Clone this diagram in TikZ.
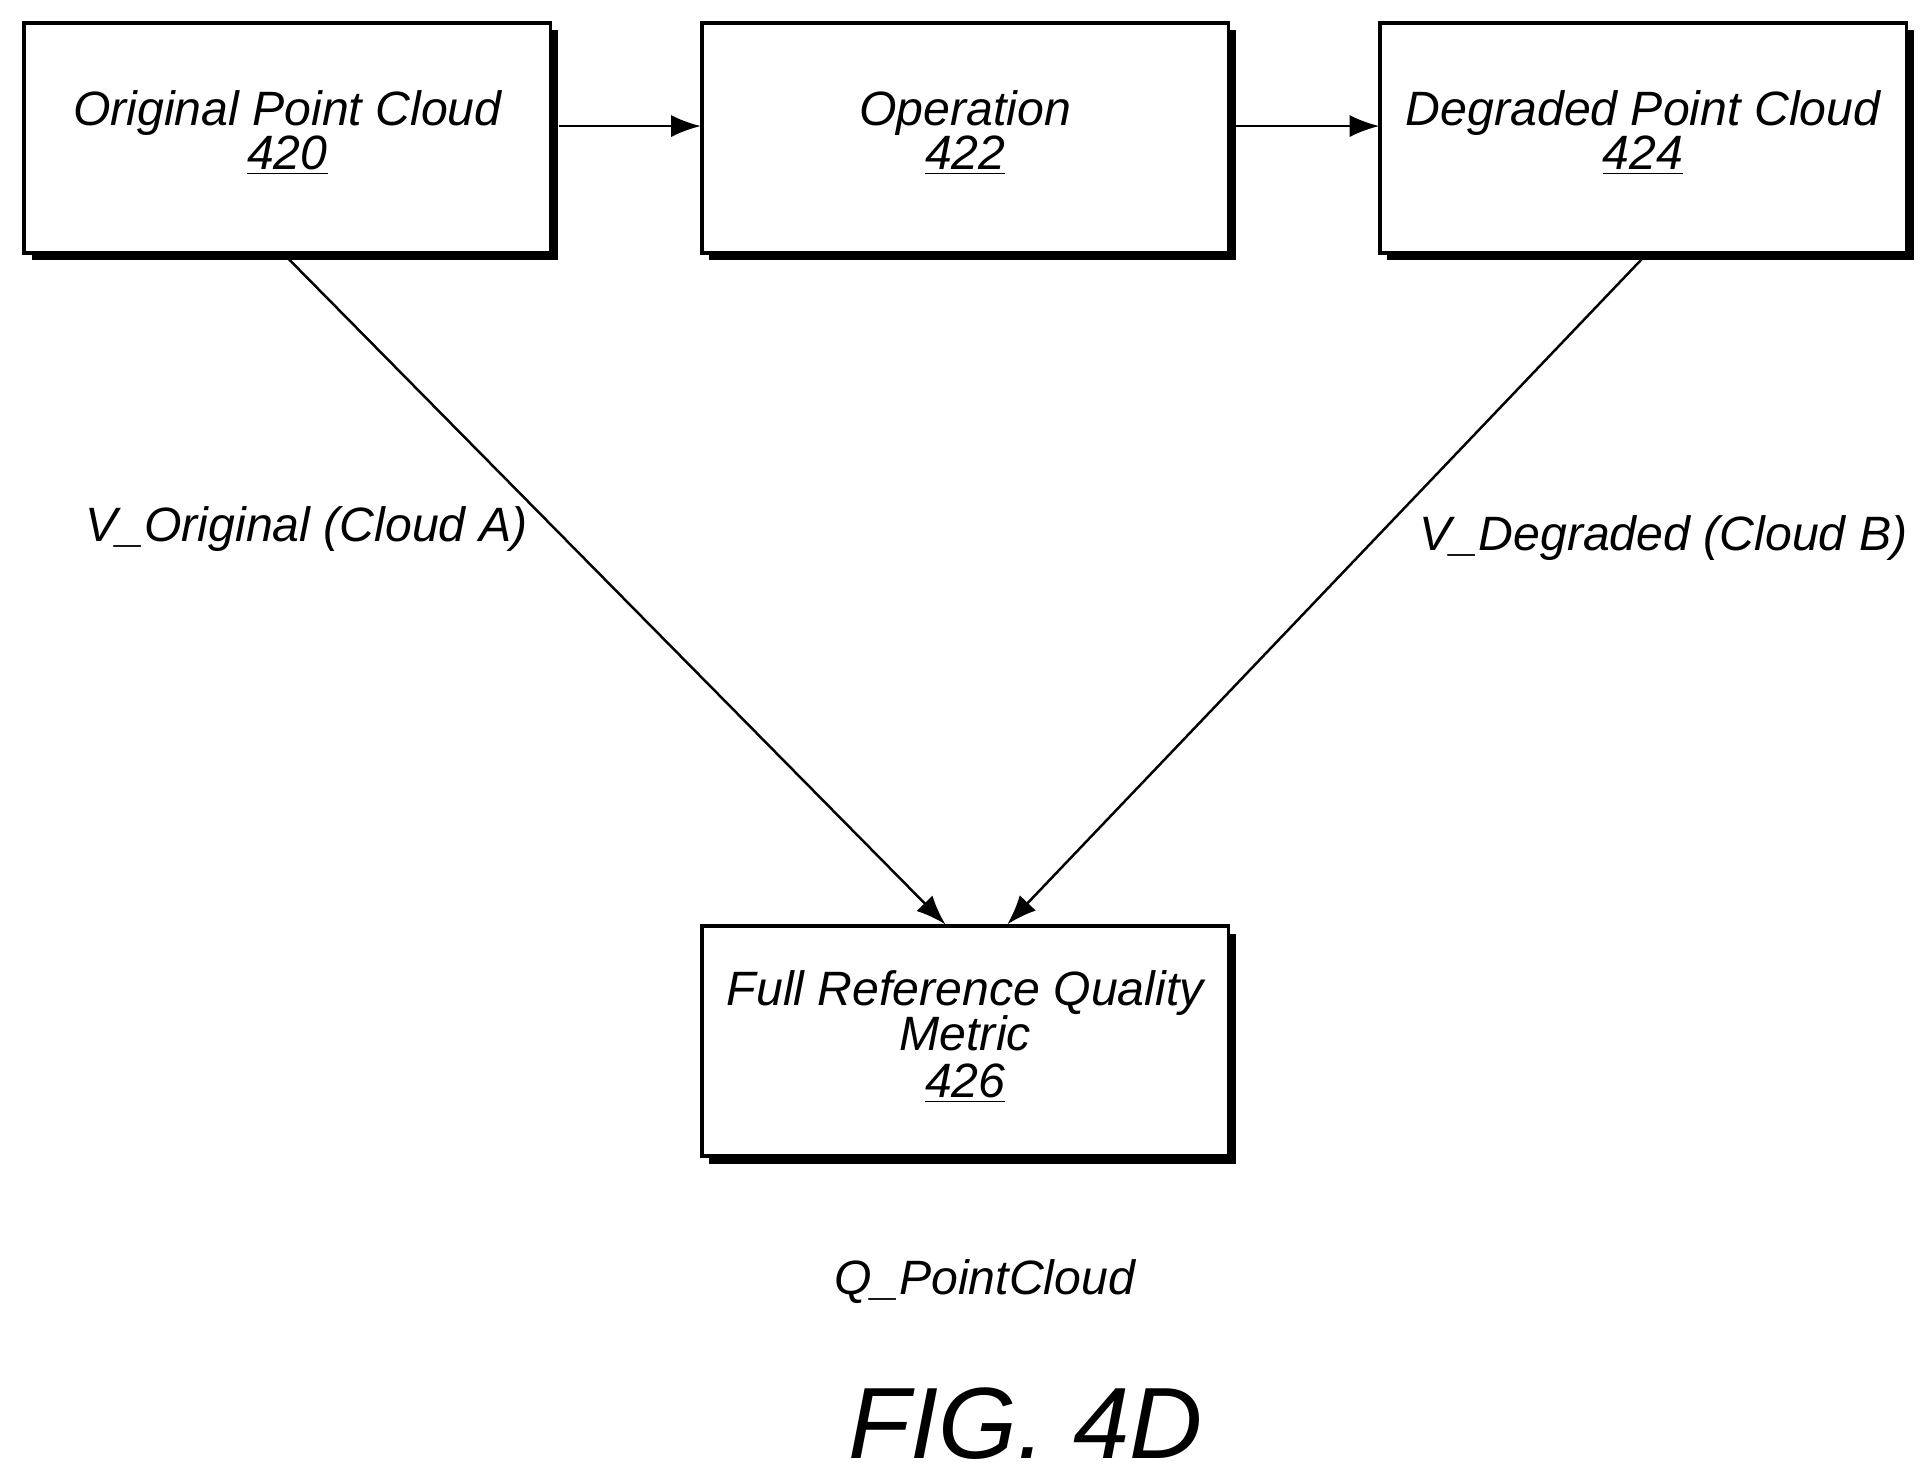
\documentclass[tikz,border=0pt]{standalone}
\usepackage{fontspec}
\setmainfont{Liberation Sans}
\usetikzlibrary{arrows.meta}
\begin{document}
\begin{tikzpicture}[x=0.5pt,y=-0.5pt,
  box/.style={draw,line width=1.5pt,fill=white,minimum width=213pt,minimum height=93pt,inner sep=0pt,
    font=\fontsize{19.5}{20}\itshape\selectfont,align=center},
  lbl/.style={font=\fontsize{19.5}{20}\itshape\selectfont},
  arr/.style={-{Latex[length=12pt,width=9pt]},line width=1pt}]
\useasboundingbox (0,0) rectangle (1560,1198);
\foreach \x/\y in {232.5/111.5,781/111.5,1329.5/111.5,781/842.5}
  \fill[black] (\x-213+6,\y-93+6) rectangle (\x+213+6,\y+93+6);
\node[box] (a) at (232.5,111.5) {\raisebox{14pt}{\begin{tabular}{c}Original Point Cloud\\[-2pt]\underline{420}\end{tabular}}};
\node[box] (b) at (781,111.5) {\raisebox{14pt}{\begin{tabular}{c}Operation\\[-2pt]\underline{422}\end{tabular}}};
\node[box] (c) at (1329.5,111.5) {\raisebox{14pt}{\begin{tabular}{c}Degraded Point Cloud\\[-2pt]\underline{424}\end{tabular}}};
\node[box] (d) at (781,842.5) {\raisebox{2pt}{\begin{tabular}{c}Full Reference Quality\\[-2pt]Metric\\[-1pt]\underline{426}\end{tabular}}};
\coordinate (a1) at (452,102); \coordinate (b1) at (567,102);
\coordinate (b2) at (1000,102); \coordinate (c1) at (1116,102);
\draw[arr] (a1) -- (b1);
\draw[arr] (b2) -- (c1);
\coordinate (ds) at (232,208); \coordinate (de) at (765,748);
\coordinate (es) at (1330,208); \coordinate (ee) at (815,748);
\draw[arr] (ds) -- (de);
\draw[arr] (es) -- (ee);
\node[lbl] (l1) at (248,428) {V\_Original (Cloud A)};
\node[lbl] (l2) at (1346,435) {V\_Degraded (Cloud B)};
\node[lbl] (q) at (797,1037) {Q\_PointCloud};
\node[font=\fontsize{41}{41}\itshape\selectfont] (fig) at (830,1152) {FIG. 4D};
\end{tikzpicture}
\end{document}
